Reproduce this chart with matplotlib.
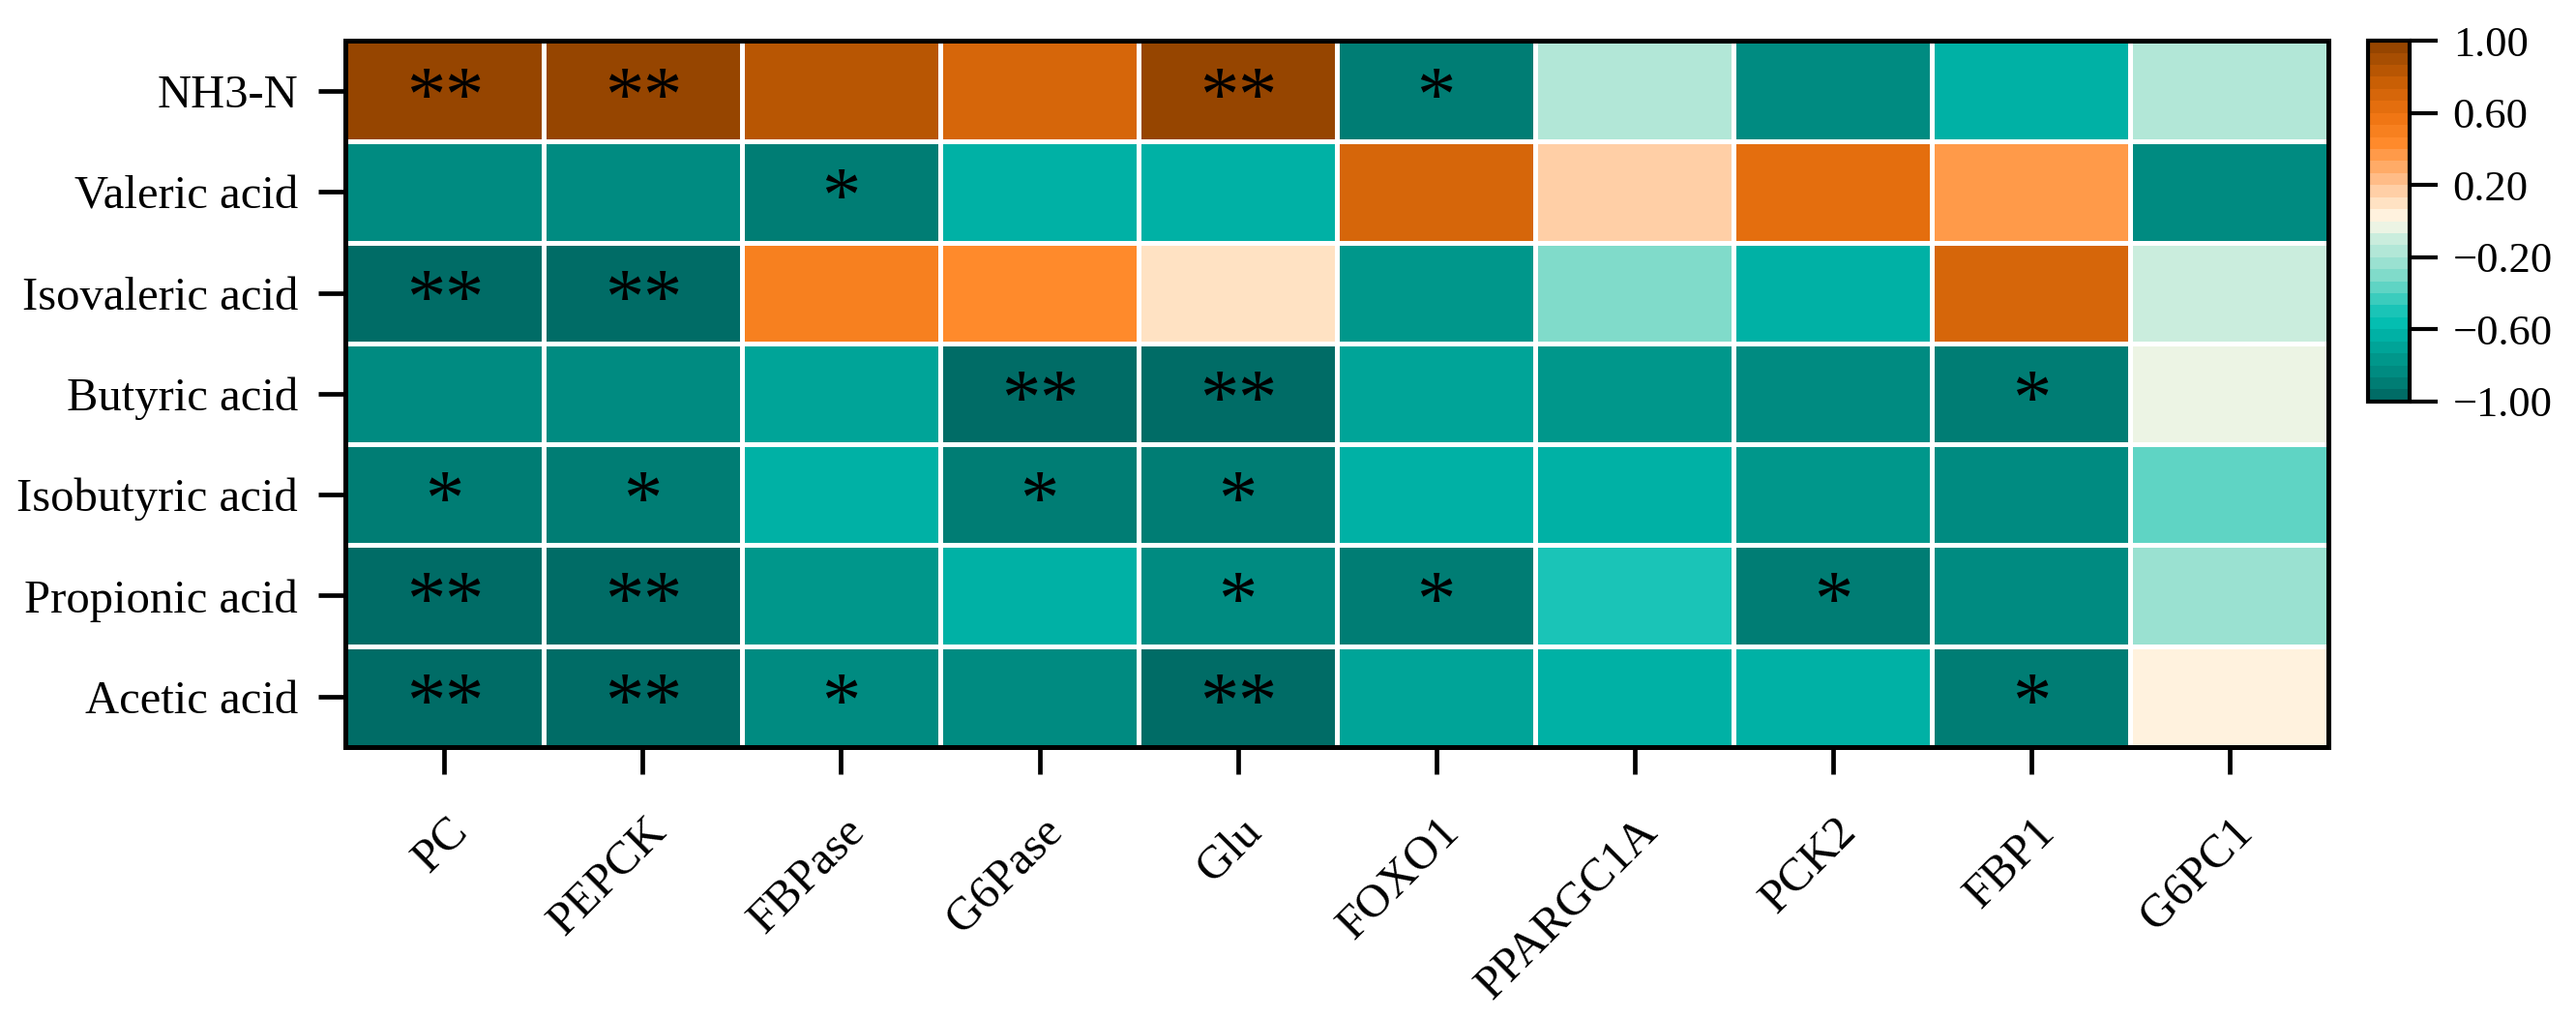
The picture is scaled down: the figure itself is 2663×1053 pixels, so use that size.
import matplotlib

matplotlib.use("Agg")
import matplotlib.pyplot as plt  # noqa: E402
import matplotlib.transforms as mtransforms  # noqa: E402
import numpy as np  # noqa: E402
from matplotlib.colors import LinearSegmentedColormap  # noqa: E402

plt.rcParams["font.family"] = ["Liberation Serif", "DejaVu Serif"]
plt.rcParams["axes.unicode_minus"] = True

rows = ["NH3-N", "Valeric acid", "Isovaleric acid", "Butyric acid",
        "Isobutyric acid", "Propionic acid", "Acetic acid"]
cols = ["PC", "PEPCK", "FBPase", "G6Pase", "Glu", "FOXO1", "PPARGC1A",
        "PCK2", "FBP1", "G6PC1"]

# correlation coefficients
r_nh3 = [0.97, 0.97, 0.82, 0.72, 0.95, -0.87, -0.20, -0.80, -0.65, -0.20]
r_valeric = [-0.80, -0.80, -0.88, -0.63, -0.63, 0.72, 0.18, 0.62, 0.35, -0.80]
r_isovaleric = [-0.96, -0.96, 0.53, 0.43, 0.10, -0.77, -0.30, -0.65, 0.73, -0.10]
r_butyric = [-0.80, -0.80, -0.70, -0.96, -0.96, -0.70, -0.77, -0.80, -0.93, -0.03]
r_isobutyric = [-0.88, -0.88, -0.62, -0.88, -0.90, -0.65, -0.65, -0.75, -0.80, -0.40]
r_propionic = [-0.96, -0.96, -0.77, -0.65, -0.80, -0.90, -0.50, -0.93, -0.80, -0.23]
r_acetic = [-0.96, -0.96, -0.80, -0.80, -0.96, -0.68, -0.65, -0.62, -0.90, 0.05]

# significance marks
s_nh3 = ["**", "**", "", "", "**", "*", "", "", "", ""]
s_valeric = ["", "", "*", "", "", "", "", "", "", ""]
s_isovaleric = ["**", "**", "", "", "", "", "", "", "", ""]
s_butyric = ["", "", "", "**", "**", "", "", "", "*", ""]
s_isobutyric = ["*", "*", "", "*", "*", "", "", "", "", ""]
s_propionic = ["**", "**", "", "", "*", "*", "", "*", "", ""]
s_acetic = ["**", "**", "*", "", "**", "", "", "", "*", ""]

cbar_ticks = [-1.0, -0.6, -0.2, 0.2, 0.6, 1.0]

R = np.array([r_nh3, r_valeric, r_isovaleric, r_butyric, r_isobutyric,
              r_propionic, r_acetic])
S = [s_nh3, s_valeric, s_isovaleric, s_butyric, s_isobutyric, s_propionic,
     s_acetic]

anchors = [
    (0.00, "#006c66"), (0.05, "#00857b"), (0.10, "#00968a"),
    (0.15, "#00a89c"), (0.20, "#00bdb0"), (0.25, "#20c6b8"),
    (0.30, "#55d2c2"), (0.35, "#85dccb"), (0.40, "#a8e5d5"),
    (0.45, "#cbeddd"), (0.485, "#eef5e5"), (0.515, "#fff3e0"),
    (0.55, "#ffe3c4"), (0.60, "#ffc79a"), (0.65, "#ffad6b"),
    (0.725, "#ff8a2a"), (0.80, "#ee7412"), (0.90, "#c85e05"),
    (1.00, "#964500"),
]
cmap = LinearSegmentedColormap.from_list("bg", anchors, N=30)

fig = plt.figure(figsize=(26.63, 10.53), dpi=100)
ax = fig.add_axes([0.134, 0.267, 0.770, 0.693])
mesh = ax.pcolormesh(R, cmap=cmap, vmin=-1, vmax=1, edgecolors="white",
                     linewidth=2.2)
ax.set_xlim(0, len(cols))
ax.set_ylim(len(rows), 0)

# stars, each drawn on its own so the pair is spread like the original
for i in range(len(rows)):
    for j in range(len(cols)):
        n = len(S[i][j])
        for k in range(n):
            dx = (k - (n - 1) / 2) * 0.19
            ax.text(j + 0.5 + dx, i + 0.6, "*", ha="center", va="center",
                    fontsize=58, color="black")

ax.set_yticks(np.arange(len(rows)) + 0.5)
ax.set_yticklabels(rows, fontsize=35)
ax.set_xticks(np.arange(len(cols)) + 0.5)
ax.set_xticklabels(cols, fontsize=35, rotation=45, ha="right")
ax.tick_params(axis="x", length=20, width=3.4, pad=27)
ax.tick_params(axis="y", length=20, width=3.4, pad=15)
shift = mtransforms.ScaledTranslation(0.33, 0, fig.dpi_scale_trans)
for lab in ax.get_xticklabels():
    lab.set_transform(lab.get_transform() + shift)
for s in ax.spines.values():
    s.set_linewidth(3.6)
    s.set_color("black")

cax = fig.add_axes([0.9193, 0.606, 0.0162, 0.354])
cb = fig.colorbar(mesh, cax=cax, ticks=cbar_ticks)
cb.ax.set_yticklabels([f"{t:.2f}".replace("-", "\u2212") for t in cbar_ticks],
                      fontsize=32)
cb.ax.tick_params(length=21, width=3, pad=11)
cb.outline.set_linewidth(3)

fig.savefig("out.png", dpi=100)
